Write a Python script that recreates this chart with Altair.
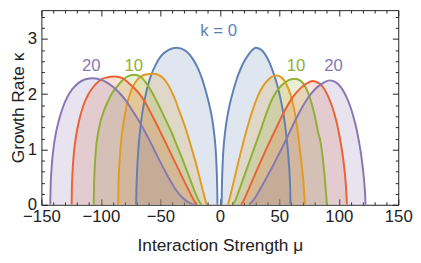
import altair as alt
import pandas as pd

# ---------------- data ----------------
k_values = [0, 5, 10, 15, 20]
k_colors = ["#5E81B5", "#E19C24", "#8FB032", "#EB6235", "#8778B3"]

# k = 0 (blue)
k0_left_x = [-70.4, -70.1, -69.5, -68.5, -66.8, -64.5, -61.5, -58.0, -54.0, -49.0, -43.0, -36.0,
             -28.5, -22.5, -18.0, -14.5, -11.5, -9.0, -7.0, -5.4, -4.1, -3.2, -2.6, -2.2, -2.0]
k0_left_y = [0, 0.3, 0.65, 1.0, 1.4, 1.75, 2.07, 2.33, 2.53, 2.7, 2.8, 2.84,
             2.78, 2.63, 2.45, 2.25, 2.03, 1.82, 1.62, 1.4, 1.15, 0.9, 0.6, 0.3, 0]
k0_right_x = [1.5, 1.7, 2.1, 2.7, 3.6, 4.9, 6.5, 8.5, 11.0, 14.0, 17.5, 21.5, 26.0, 30.4,
              35.5, 40.0, 44.0, 47.5, 50.5, 53.0, 55.0, 56.6, 57.8, 58.7, 59.2, 59.4]
k0_right_y = [0, 0.3, 0.6, 0.9, 1.15, 1.4, 1.62, 1.83, 2.04, 2.26, 2.46, 2.63, 2.77, 2.84,
              2.79, 2.65, 2.45, 2.22, 1.97, 1.7, 1.42, 1.12, 0.82, 0.52, 0.25, 0]

# k = 5 (orange)
k5_left_x = [-85.5, -85.3, -84.8, -83.9, -82.5, -80.5, -78.0, -75.0, -71.5, -67.0, -61.5, -55.8,
             -50.0, -45.0, -41.0, -37.5, -34.5, -31.2, -28.0, -24.8, -21.8, -19.0, -16.5, -14.3, -12.5, -11.2]
k5_left_y = [0, 0.3, 0.6, 0.92, 1.25, 1.55, 1.82, 2.04, 2.2, 2.31, 2.36, 2.37,
             2.33, 2.22, 2.07, 1.9, 1.72, 1.53, 1.33, 1.1, 0.88, 0.66, 0.45, 0.26, 0.11, 0]
k5_right_x = [6.8, 8.3, 10.0, 12.0, 14.3, 16.8, 19.4, 22.2, 25.2, 28.5, 32.2, 36.5, 41.5, 47.0,
              52.0, 56.0, 59.3, 62.0, 64.2, 66.1, 67.7, 69.3, 70.5, 71.1, 71.5]
k5_right_y = [0, 0.12, 0.27, 0.45, 0.66, 0.88, 1.1, 1.33, 1.55, 1.77, 1.98, 2.15, 2.28, 2.34,
              2.3, 2.18, 2.0, 1.78, 1.52, 1.23, 0.93, 0.63, 0.35, 0.15, 0]

# k = 10 (green)
k10_left_x = [-106.0, -105.8, -105.2, -104.2, -102.6, -100.4, -97.5, -94.5, -90.5, -86.0, -81.0, -76.5, -72.0,
              -67.0, -62.5, -58.0, -54.0, -50.0, -46.5, -43.0, -40.0, -37.0, -34.0, -31.0, -28.0, -25.0,
              -22.2, -19.6, -17.3, -15.3]
k10_left_y = [0, 0.3, 0.65, 1.0, 1.27, 1.5, 1.7, 1.85, 2.02, 2.15, 2.27, 2.33, 2.35,
              2.32, 2.22, 2.07, 1.91, 1.74, 1.58, 1.42, 1.28, 1.12, 0.96, 0.8, 0.63, 0.46,
              0.3, 0.16, 0.06, 0]
k10_right_x = [10.9, 13.0, 16.0, 19.5, 23.0, 26.5, 30.0, 33.5, 37.0, 40.5, 44.0, 48.0, 52.5, 57.5, 62.6,
               68.0, 72.0, 75.0, 77.7, 80.2, 82.4, 84.8, 86.5, 87.9, 88.9, 89.6, 89.9]
k10_right_y = [0, 0.08, 0.25, 0.46, 0.67, 0.88, 1.09, 1.3, 1.52, 1.73, 1.91, 2.06, 2.17, 2.25, 2.28,
               2.24, 2.13, 1.98, 1.79, 1.57, 1.33, 1.12, 0.85, 0.56, 0.3, 0.12, 0]

# k = 15 (red)
k15_left_x = [-124.6, -124.4, -123.7, -122.5, -120.6, -118.0, -114.8, -111.0, -106.5, -101.5, -96.0, -88.0,
              -82.0, -76.5, -71.0, -66.0, -61.5, -57.0, -52.5, -48.0, -43.5, -39.0, -34.5, -30.5, -27.0,
              -24.0, -21.5, -19.4]
k15_left_y = [0, 0.3, 0.65, 0.98, 1.28, 1.55, 1.79, 1.98, 2.13, 2.24, 2.3, 2.32,
              2.29, 2.2, 2.09, 1.96, 1.8, 1.62, 1.43, 1.23, 1.03, 0.83, 0.63, 0.45, 0.3,
              0.17, 0.07, 0]
k15_right_x = [17.8, 20.0, 22.6, 25.6, 28.8, 32.2, 35.7, 39.3, 43.0, 47.0, 51.0, 55.5, 60.5, 66.0, 72.0, 78.0,
               84.0, 88.2, 91.7, 94.8, 97.5, 99.8, 101.8, 103.5, 104.9, 105.9, 106.5, 106.8]
k15_right_y = [0, 0.08, 0.2, 0.35, 0.51, 0.68, 0.85, 1.02, 1.19, 1.37, 1.55, 1.74, 1.92, 2.07, 2.18, 2.24,
               2.19, 2.08, 1.93, 1.75, 1.55, 1.33, 1.1, 0.86, 0.61, 0.37, 0.17, 0]

# k = 20 (purple)
k20_left_x = [-142.6, -142.3, -141.5, -140.1, -138.0, -135.3, -132.0, -128.2, -124.0, -119.0, -113.0, -106.5,
              -99.5, -93.5, -88.0, -83.0, -78.5, -74.3, -70.4, -66.5, -62.7, -59.0, -55.3, -51.6, -48.0,
              -44.4, -41.0, -37.6, -34.0, -30.3, -26.8, -23.8, -21.0]
k20_left_y = [0, 0.3, 0.65, 0.98, 1.28, 1.53, 1.76, 1.95, 2.09, 2.2, 2.27, 2.29,
              2.26, 2.19, 2.1, 1.99, 1.87, 1.73, 1.6, 1.46, 1.31, 1.16, 1.0, 0.84, 0.69,
              0.54, 0.41, 0.29, 0.19, 0.11, 0.05, 0.015, 0]
k20_right_x = [24.6, 27.3, 30.3, 33.6, 37.2, 41.0, 45.0, 49.0, 53.0, 57.0, 61.0, 65.2, 69.7, 74.6, 80.0, 86.0, 92.0,
               98.0, 102.3, 106.0, 109.3, 112.2, 114.8, 117.0, 118.9, 120.4, 121.5, 122.2, 122.5]
k20_right_y = [0, 0.06, 0.15, 0.27, 0.41, 0.56, 0.72, 0.89, 1.06, 1.24, 1.42, 1.6, 1.78, 1.95, 2.09, 2.19, 2.25,
               2.21, 2.11, 1.97, 1.8, 1.6, 1.38, 1.14, 0.89, 0.63, 0.38, 0.17, 0]

# curve labels
lab_text = ["k = 0", "20", "10", "10", "20"]
lab_mu = [-1.0, -108.0, -72.3, 64.0, 95.5]
lab_kappa = [3.14, 2.5, 2.5, 2.5, 2.5]
lab_k = [0, 20, 10, 10, 20]

# axis ticks
x_major = [-150, -100, -50, 0, 50, 100, 150]
x_minor = [-140, -130, -120, -110, -90, -80, -70, -60, -40, -30, -20, -10,
           10, 20, 30, 40, 60, 70, 80, 90, 110, 120, 130, 140]
y_major = [0, 1, 2, 3]
y_minor = [0.2, 0.4, 0.6, 0.8, 1.2, 1.4, 1.6, 1.8, 2.2, 2.4, 2.6, 2.8, 3.2, 3.4]

# ---------------- tables ----------------
branches = [
    (0, "L", k0_left_x, k0_left_y), (0, "R", k0_right_x, k0_right_y),
    (5, "L", k5_left_x, k5_left_y), (5, "R", k5_right_x, k5_right_y),
    (10, "L", k10_left_x, k10_left_y), (10, "R", k10_right_x, k10_right_y),
    (15, "L", k15_left_x, k15_left_y), (15, "R", k15_right_x, k15_right_y),
    (20, "L", k20_left_x, k20_left_y), (20, "R", k20_right_x, k20_right_y),
]
rows = []
for k, side, xs_, ys_ in branches:
    for xv, yv in zip(xs_, ys_):
        rows.append({"k": k, "side": side, "seg": f"{k}{side}", "mu": xv, "kappa": yv})
df = pd.DataFrame(rows)
labels = pd.DataFrame({"t": lab_text, "mu": lab_mu, "kappa": lab_kappa, "k": lab_k})

FONT = "Liberation Sans"
INK = "#222222"

xsc = alt.Scale(domain=[-150, 150], nice=False, zero=False)
ysc = alt.Scale(domain=[0, 3.52], nice=False)
csc = alt.Scale(domain=k_values, range=k_colors)


def tick_axis(orient, values, size, **kw):
    return alt.Axis(orient=orient, values=values, offset=-size, tickSize=size,
                    tickColor=INK, tickWidth=1, domain=False, grid=False,
                    labelFlush=False, labelOverlap=False, **kw)


ax_x_main = tick_axis("bottom", x_major, 6, labels=True, labelPadding=4, labelFontSize=17,
                      labelColor=INK, labelFont=FONT, title="Interaction Strength μ",
                      titleFont=FONT, titleFontSize=17.6, titleFontWeight="normal",
                      titleColor=INK, titlePadding=13)
ax_y_main = tick_axis("left", y_major, 6, labels=True, labelPadding=5, labelFontSize=17,
                      labelColor=INK, labelFont=FONT, title="Growth Rate κ",
                      titleFont=FONT, titleFontSize=17.6, titleFontWeight="normal",
                      titleColor=INK, titlePadding=0)
ax_x_min_b = tick_axis("bottom", x_minor, 3, labels=False, title=None)
ax_y_min_l = tick_axis("left", y_minor, 3, labels=False, title=None)
ax_x_maj_t = tick_axis("top", x_major, 6, labels=False, title=None)
ax_y_maj_r = tick_axis("right", y_major, 6, labels=False, title=None)
ax_x_min_t = tick_axis("top", x_minor, 3, labels=False, title=None)
ax_y_min_r = tick_axis("right", y_minor, 3, labels=False, title=None)

color = alt.Color("k:N", scale=csc, legend=None)

areas = alt.Chart(df).mark_area(interpolate="monotone", opacity=0.2, clip=True).encode(
    x=alt.X("mu:Q", scale=xsc, axis=ax_x_main),
    y=alt.Y("kappa:Q", scale=ysc, axis=ax_y_main, stack=None),
    color=color,
    detail="seg:N",
)

lines_left = alt.Chart(df).transform_filter("datum.side == 'L'").mark_line(
    interpolate="monotone", strokeWidth=2, clip=True).encode(
    x=alt.X("mu:Q", scale=xsc, axis=ax_x_min_b),
    y=alt.Y("kappa:Q", scale=ysc, axis=ax_y_min_l),
    color=color,
    detail="seg:N",
)

lines_right = alt.Chart(df).transform_filter("datum.side == 'R'").mark_line(
    interpolate="monotone", strokeWidth=2, clip=True).encode(
    x=alt.X("mu:Q", scale=xsc, axis=ax_x_min_t),
    y=alt.Y("kappa:Q", scale=ysc, axis=ax_y_min_r),
    color=color,
    detail="seg:N",
)

texts = alt.Chart(labels).mark_text(font=FONT, fontSize=17, align="center", baseline="middle").encode(
    x=alt.X("mu:Q", scale=xsc, axis=ax_x_maj_t),
    y=alt.Y("kappa:Q", scale=ysc, axis=ax_y_maj_r),
    text="t:N",
    color=color,
)

chart = alt.layer(areas, lines_left, lines_right, texts).resolve_axis(
    x="independent", y="independent"
).properties(
    width=363, height=198,
    padding={"left": 34, "top": 0, "right": 15, "bottom": 54},
    autosize=alt.AutoSizeParams(type="none"),
).configure(font=FONT).configure_view(stroke=INK, strokeWidth=1)

chart.save("out.html", embed_options={"renderer": "svg", "actions": False})
